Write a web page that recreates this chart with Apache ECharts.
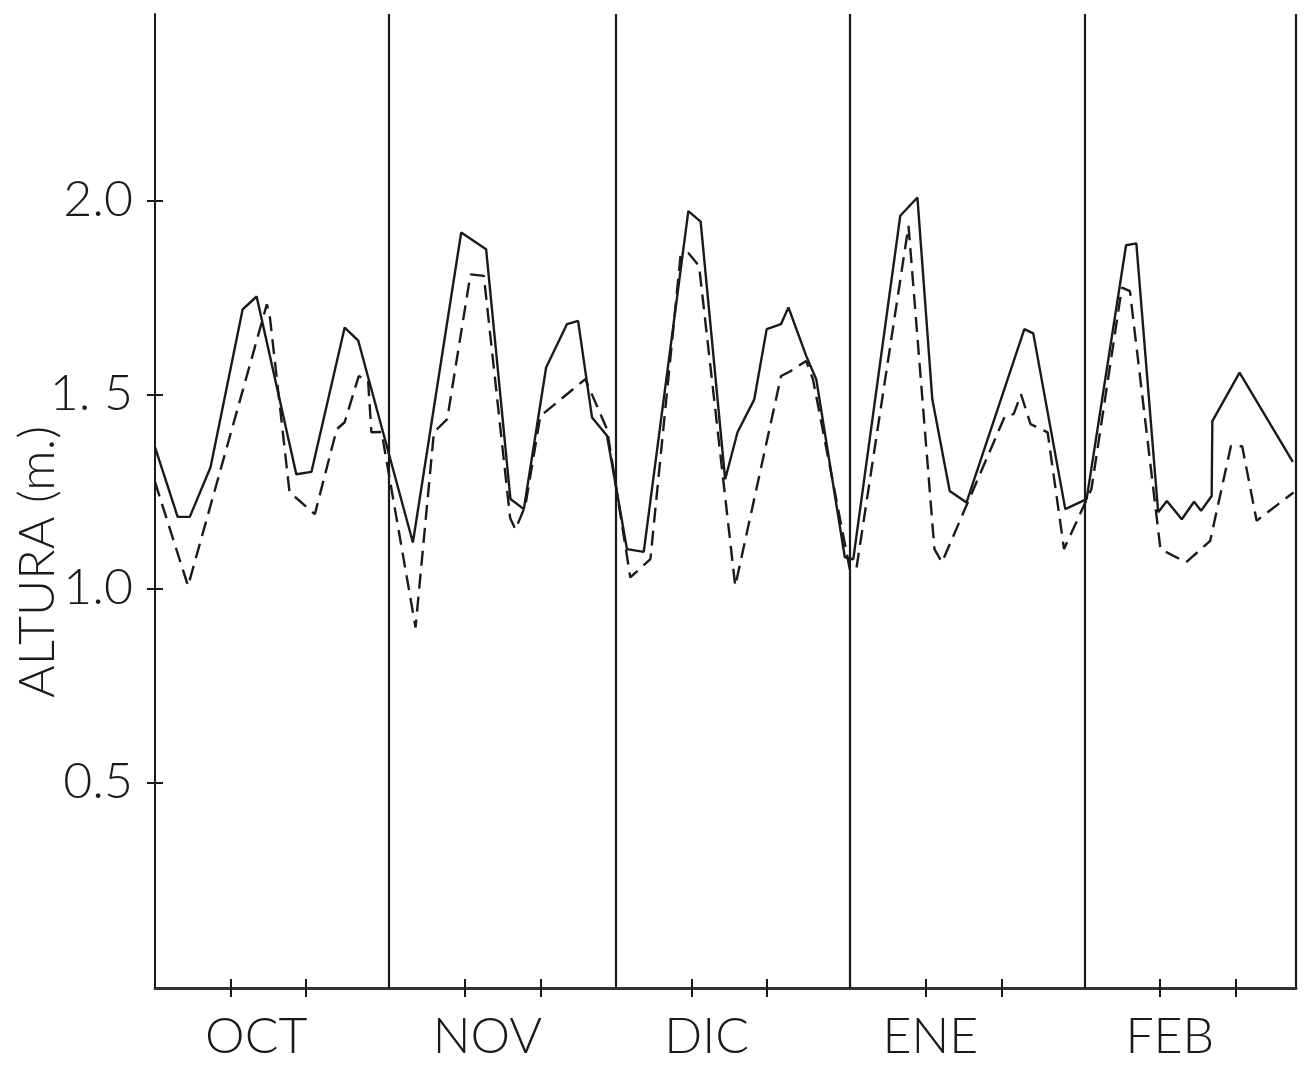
<!DOCTYPE html>
<html>
<head>
<meta charset="utf-8">
<script src="https://cdn.jsdelivr.net/npm/echarts@6/dist/echarts.min.js"></script>
<style>
html,body{margin:0;padding:0;background:#fff;}
#chart{width:1313px;height:1072px;}
</style>
</head>
<body>
<div id="chart"></div>
<script>
// Month names and day offsets (days since 1 Oct)
var monthNames = ['OCT', 'NOV', 'DIC', 'ENE', 'FEB'];
var monthStarts = [0, 31, 61, 92, 123];
var monthEnd = 151;
var monthLabelDays = [13.4, 44, 73, 102.6, 134.3];
var dayTickOffsets = [10, 20];

// Y-axis tick values and their printed labels
var yTickValues = [0.5, 1.0, 1.5, 2.0];
var yTickLabels = ['0.5', '1.0', '1. 5', '2.0'];
var yAxisTitle = 'ALTURA (m.)';

// Solid series (day, height m)
var solidDays = [0, 3.0, 4.6, 7.35, 11.6, 13.45, 18.7, 20.7, 25.1, 26.9,
  34.13, 40.52, 43.82, 47.04, 48.81, 51.76, 54.53, 55.99, 57.84, 59.82,
  62.46, 64.68, 70.58, 72.21, 75.46, 77.09, 79.31, 80.95, 82.85, 83.83, 86.18, 87.51, 91.29,
  92.41, 98.63, 100.9, 102.87, 105.17, 107.39, 115.05, 116.23, 120.47,
  123.29, 128.51, 129.87, 132.76, 133.91, 135.89, 137.51, 138.44, 139.84, 139.93, 143.53, 150.58];
var solidVals = [1.364, 1.184, 1.184, 1.312, 1.719, 1.752, 1.294, 1.300, 1.672, 1.638,
  1.118, 1.917, 1.874, 1.230, 1.204, 1.569, 1.681, 1.689, 1.440, 1.393,
  1.101, 1.094, 1.972, 1.945, 1.281, 1.402, 1.487, 1.668, 1.681, 1.724, 1.599, 1.539, 1.080,
  1.075, 1.960, 2.007, 1.487, 1.251, 1.221, 1.668, 1.657, 1.204,
  1.230, 1.884, 1.889, 1.196, 1.225, 1.178, 1.223, 1.200, 1.238, 1.431, 1.556, 1.326];

// Dashed series (day, height m)
var dashDays = [0, 4.37, 14.8, 15.2, 17.8, 21.15, 24.05, 25.1, 26.96, 28.2, 28.64, 29.98,
  34.48, 36.91, 38.67, 41.75, 43.52, 47.0, 47.7, 49.0, 51.0, 56.95, 59.82,
  62.9, 65.56, 69.55, 70.58, 72.0, 76.79, 82.85, 83.97, 86.18, 87.07, 91.95,
  92.81, 99.72, 103.15, 104.15, 112.49, 113.63, 114.61, 115.87, 118.13, 120.3,
  123.93, 127.96, 129.02, 133.06, 136.46, 139.64, 142.39, 143.88, 145.79, 150.67];
var dashVals = [1.274, 1.006, 1.732, 1.700, 1.248, 1.191, 1.410, 1.428, 1.547, 1.535, 1.402, 1.403,
  0.899, 1.402, 1.436, 1.809, 1.805, 1.181, 1.152, 1.212, 1.444, 1.539, 1.410,
  1.028, 1.075, 1.857, 1.864, 1.831, 1.006, 1.547, 1.558, 1.586, 1.539, 1.049,
  1.049, 1.934, 1.101, 1.067, 1.444, 1.449, 1.500, 1.423, 1.402, 1.101,
  1.256, 1.775, 1.766, 1.101, 1.067, 1.122, 1.367, 1.366, 1.174, 1.247];

function pairs(xs, ys) { return xs.map(function (x, i) { return [x, ys[i]]; }); }

var dayTicks = [];
monthStarts.forEach(function (s) { dayTicks.push(s + dayTickOffsets[0], s + dayTickOffsets[1]); });
var separators = monthStarts.slice(1).concat([monthEnd]);

var FONT = 'Lato';
var INK = '#1a1a1a';

var chart = echarts.init(document.getElementById('chart'), null, {renderer: 'canvas'});
chart.setOption({
  animation: false,
  backgroundColor: '#ffffff',
  grid: {left: 155, right: 17, top: 14, bottom: 84, containLabel: false, outerBoundsMode: 'none'},
  graphic: [{
    type: 'text', x: 38, y: 562, rotation: Math.PI / 2, silent: true,
    style: {text: yAxisTitle, fontFamily: FONT, fontWeight: 300, fontSize: 50, fill: INK,
      textAlign: 'center', textVerticalAlign: 'middle'}
  }],
  xAxis: [{
    type: 'value', min: 0, max: monthEnd, position: 'bottom',
    axisLine: {show: true, onZero: false, lineStyle: {color: '#333', width: 3}},
    axisTick: {show: true, inside: false, length: 9, customValues: dayTicks, lineStyle: {color: INK, width: 2}},
    axisLabel: {show: true, customValues: monthLabelDays, margin: 24,
      fontFamily: FONT, fontWeight: 300, fontSize: 50, color: INK,
      formatter: function (v) {
        var i = monthLabelDays.indexOf(v);
        return i >= 0 ? monthNames[i] : '';
      }},
    splitLine: {show: false}
  }, {
    type: 'value', min: 0, max: monthEnd, position: 'bottom',
    axisLine: {show: false, onZero: false},
    axisTick: {show: true, inside: true, length: 9, customValues: dayTicks, lineStyle: {color: INK, width: 2}},
    axisLabel: {show: false},
    splitLine: {show: false}
  }],
  yAxis: [{
    type: 'value', min: -0.03, max: 2.48, position: 'left',
    axisLine: {show: true, onZero: false, lineStyle: {color: INK, width: 2}},
    axisTick: {show: true, inside: false, length: 8, customValues: yTickValues, lineStyle: {color: INK, width: 2}},
    axisLabel: {show: true, customValues: yTickValues, margin: 22,
      fontFamily: FONT, fontWeight: 300, fontSize: 50, color: INK,
      formatter: function (v) {
        var i = yTickValues.indexOf(v);
        return i >= 0 ? yTickLabels[i] : '';
      }},
    splitLine: {show: false}
  }, {
    type: 'value', min: -0.03, max: 2.48, position: 'left',
    axisLine: {show: false, onZero: false},
    axisTick: {show: true, inside: true, length: 8, customValues: yTickValues, lineStyle: {color: INK, width: 2}},
    axisLabel: {show: false},
    splitLine: {show: false}
  }],
  series: [{
    type: 'line', name: 'solid', xAxisIndex: 0, yAxisIndex: 0,
    data: pairs(solidDays, solidVals),
    showSymbol: false, symbol: 'none',
    lineStyle: {color: INK, width: 2.4, type: 'solid'},
    markLine: {
      silent: true, symbol: ['none', 'none'], label: {show: false},
      lineStyle: {color: INK, width: 2.2, type: 'solid'},
      data: separators.map(function (d) { return {xAxis: d}; })
    },
    z: 3
  }, {
    type: 'line', name: 'dashed', xAxisIndex: 0, yAxisIndex: 0,
    data: pairs(dashDays, dashVals),
    showSymbol: false, symbol: 'none',
    lineStyle: {color: INK, width: 2.4, type: [15, 8]},
    z: 2
  }]
});
</script>
</body>
</html>
